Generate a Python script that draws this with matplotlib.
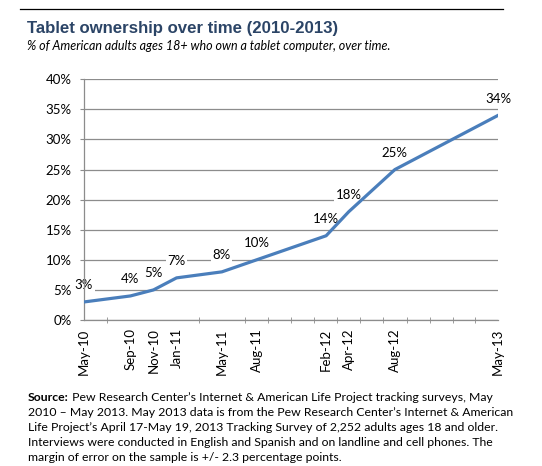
import matplotlib
matplotlib.use('Agg')
import matplotlib.pyplot as plt
import matplotlib.dates as mdates
from matplotlib.lines import Line2D
import pandas as pd

# survey dates and share of adults owning a tablet (%)
survey_dates = ['2010-05-01', '2010-09-01', '2010-11-01', '2011-01-01', '2011-05-01', '2011-08-01',
                '2012-02-01', '2012-04-01', '2012-08-01', '2013-05-01']
tablet_pct = [3, 4, 5, 7, 8, 10, 14, 18, 25, 34]
y_ticks = [0, 5, 10, 15, 20, 25, 30, 35, 40]

title = 'Tablet ownership over time (2010-2013)'
subtitle = '% of American adults ages 18+ who own a tablet computer, over time.'
source_lines = [
    'Pew Research Center\u2019s Internet & American Life Project tracking surveys, May',
    '2010 \u2013 May 2013. May 2013 data is from the Pew Research Center\u2019s Internet & American',
    'Life Project\u2019s April 17-May 19, 2013 Tracking Survey of 2,252 adults ages 18 and older.',
    'Interviews were conducted in English and Spanish and on landline and cell phones. The',
    'margin of error on the sample is +/- 2.3 percentage points.',
]

W, H = 542, 466
body_font = ['Lato', 'DejaVu Sans']
grey = '#8c8c8c'
line_blue = '#4a7ebb'

dates = pd.to_datetime(survey_dates)

fig = plt.figure(figsize=(W / 100, H / 100), dpi=100)
ax = fig.add_axes([84 / W, 1 - 320 / H, (498 - 84) / W, (320 - 79.3) / H])

ax.plot(dates, tablet_pct, color=line_blue, linewidth=2.3, solid_joinstyle='round', zorder=3)

for d, v in zip(dates, tablet_pct):
    ax.annotate(f'{v}%', xy=(d, v), xytext=(0, 12), textcoords='offset points',
                ha='center', va='center', fontsize=9.5, family=body_font, color='black',
                bbox=dict(boxstyle='square,pad=0.1', fc='white', ec='none'), zorder=2.5,
                annotation_clip=False)

ax.set_xlim(dates[0], dates[-1])
ax.set_ylim(0, 40)
ax.set_yticks(y_ticks)
ax.set_yticklabels([f'{t}%' for t in y_ticks])
ax.yaxis.grid(True, color=grey, linewidth=0.9)
ax.set_axisbelow(True)

# labels at survey dates, tick marks every two months
ax.set_xticks(dates)
ax.xaxis.set_major_formatter(mdates.DateFormatter('%b-%y'))
ax.xaxis.set_minor_locator(mdates.MonthLocator(bymonth=[1, 3, 5, 7, 9, 11]))
ax.tick_params(axis='x', which='major', length=0, pad=6, rotation=90)
ax.tick_params(axis='x', which='minor', length=5, direction='inout', color=grey)
ax.tick_params(axis='y', length=3, color=grey, pad=6)
for lbl in ax.get_xticklabels():
    lbl.set_family(body_font)
    lbl.set_fontsize(9.5)
for lbl in ax.get_yticklabels():
    lbl.set_family(body_font)
    lbl.set_fontsize(9.5)

for s in ['top', 'right']:
    ax.spines[s].set_visible(False)
for s in ['left', 'bottom']:
    ax.spines[s].set_color(grey)
    ax.spines[s].set_linewidth(0.9)

# header
fig.add_artist(Line2D([20 / W, 503 / W], [1 - 9 / H, 1 - 9 / H], color='black', linewidth=0.9))
fig.text(27 / W, 1 - 33 / H, title, fontsize=12.1, fontweight='bold', color='#2b4466',
         family=['Liberation Sans', 'DejaVu Sans'], va='baseline')
fig.text(27 / W, 1 - 50 / H, subtitle, fontsize=9, style='italic', color='black',
         family=body_font, va='baseline')

# source note
src_size = 8.85
src = fig.text(28 / W, 1 - 400.7 / H, 'Source:', fontsize=src_size, fontweight='bold',
               family=body_font, va='baseline')
ax.annotate(' ' + source_lines[0], xy=(1, 0), xycoords=src, va='bottom', ha='left',
            fontsize=src_size, family=body_font, annotation_clip=False)
for i, line in enumerate(source_lines[1:], start=1):
    fig.text(28 / W, 1 - (400.7 + 15 * i) / H, line, fontsize=src_size, family=body_font,
             va='baseline')

fig.savefig('out.png', dpi=100)
